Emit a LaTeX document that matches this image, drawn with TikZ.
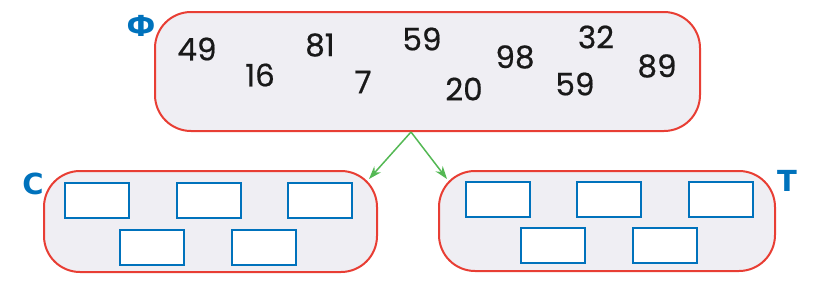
\documentclass[tikz,border=0pt]{standalone}
\usepackage{fontspec}
\setmainfont{Poppins}[FakeBold=0.6]
\newfontfamily\labelfont{DejaVu Sans}
\usetikzlibrary{arrows.meta}
\definecolor{setred}{RGB}{232,62,52}
\definecolor{setfill}{RGB}{239,238,243}
\definecolor{boxblue}{RGB}{0,114,188}
\definecolor{arrowgreen}{RGB}{84,184,84}
\tikzset{
  setbox/.style={draw=setred, fill=setfill, line width=2pt, rounded corners=36pt, inner sep=0pt},
  slot/.style={draw=boxblue, fill=white, line width=2pt, minimum width=64pt, minimum height=35pt, inner sep=0pt},
  num/.style={font=\fontsize{31}{31}\selectfont, text=black!90},
  setname/.style={font=\labelfont\bfseries\fontsize{29}{29}\selectfont, text=boxblue},
  split/.style={-{Stealth[length=13pt,width=9pt]}, arrowgreen, line width=1.5pt}
}
\begin{document}
\begin{tikzpicture}[x=1pt,y=-1pt]

    \useasboundingbox (0,0) rectangle (820,289);

    % Sets
    \node[setbox, minimum width=545pt, minimum height=119pt] (phi) at (427.5,71.5) {};
    \node[setbox, minimum width=333pt, minimum height=101pt] (setC) at (210.5,221.5) {};
    \node[setbox, minimum width=336pt, minimum height=100pt] (setT) at (607,221) {};

    % Set names
    \node[setname] (namePhi) at (141,26) {Ф};
    \node[setname] (nameC) at (33,184) {С};
    \node[setname] (nameT) at (787,181) {Т};

    % Numbers of the set
    \node[num] (n1) at (197,49) {49};
    \node[num] (n2) at (260,75) {16};
    \node[num] (n3) at (320,45) {81};
    \node[num] (n4) at (363,82) {7};
    \node[num] (n5) at (422,39) {59};
    \node[num] (n6) at (464,89) {20};
    \node[num] (n7) at (515,57) {98};
    \node[num] (n8) at (596,37) {32};
    \node[num] (n9) at (575,84) {59};
    \node[num] (n10) at (657,66) {89};

    % Empty slots in C
    \foreach \x [count=\i] in {96.5,208.5,319.5}
        \node[slot] (c\i) at (\x,200) {};
    \foreach \x [count=\i from 4] in {151.5,263.5}
        \node[slot] (c\i) at (\x,247) {};

    % Empty slots in T
    \foreach \x [count=\i] in {497.5,608.5,720.5}
        \node[slot] (t\i) at (\x,199) {};
    \foreach \x [count=\i from 4] in {552.5,664.5}
        \node[slot] (t\i) at (\x,245) {};

    % Arrows
    \coordinate (fork) at ([xshift=-16.5pt]phi.south);
    \draw[split] (fork) -- ([xshift=-9pt,yshift=-9pt]setC.north east);
    \draw[split] (fork) -- ([xshift=9pt,yshift=-9pt]setT.north west);

\end{tikzpicture}
\end{document}
